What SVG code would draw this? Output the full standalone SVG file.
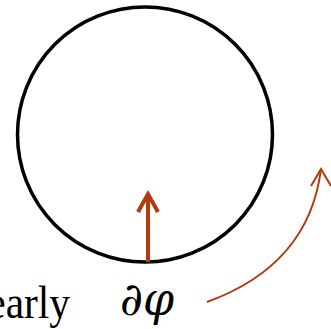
<svg xmlns="http://www.w3.org/2000/svg" width="331" height="329" viewBox="0 0 331 329">
<style>
.red{stroke:#B23A0C;fill:none;stroke-linecap:butt;stroke-linejoin:miter}
.t{font-family:"Liberation Serif",serif;fill:#000}
.m{font-family:"DejaVu Serif",serif;font-style:italic;fill:#000}
</style>
<g id="circle">
<circle cx="145" cy="134.5" r="127.5" fill="none" stroke="#000" stroke-width="3.5"/>
</g>
<g id="connectors">
<line class="red" x1="148" y1="262" x2="148" y2="194" stroke-width="4"/>
<polyline class="red" points="138,212 148,194 158,212" stroke-width="4"/>
<path class="red" d="M207,302 Q309,265 321,169" stroke-width="2"/>
<polyline class="red" points="311,186 321,169 331,186" stroke-width="2"/>
</g>
<g id="labels">
<text class="m" x="120" y="315" font-size="46" textLength="54" lengthAdjust="spacingAndGlyphs">∂φ</text>
<text class="t" x="70" y="318" font-size="46" text-anchor="end" transform="translate(70 0) scale(0.9 1) translate(-70 0)">early</text>
</g>
</svg>
